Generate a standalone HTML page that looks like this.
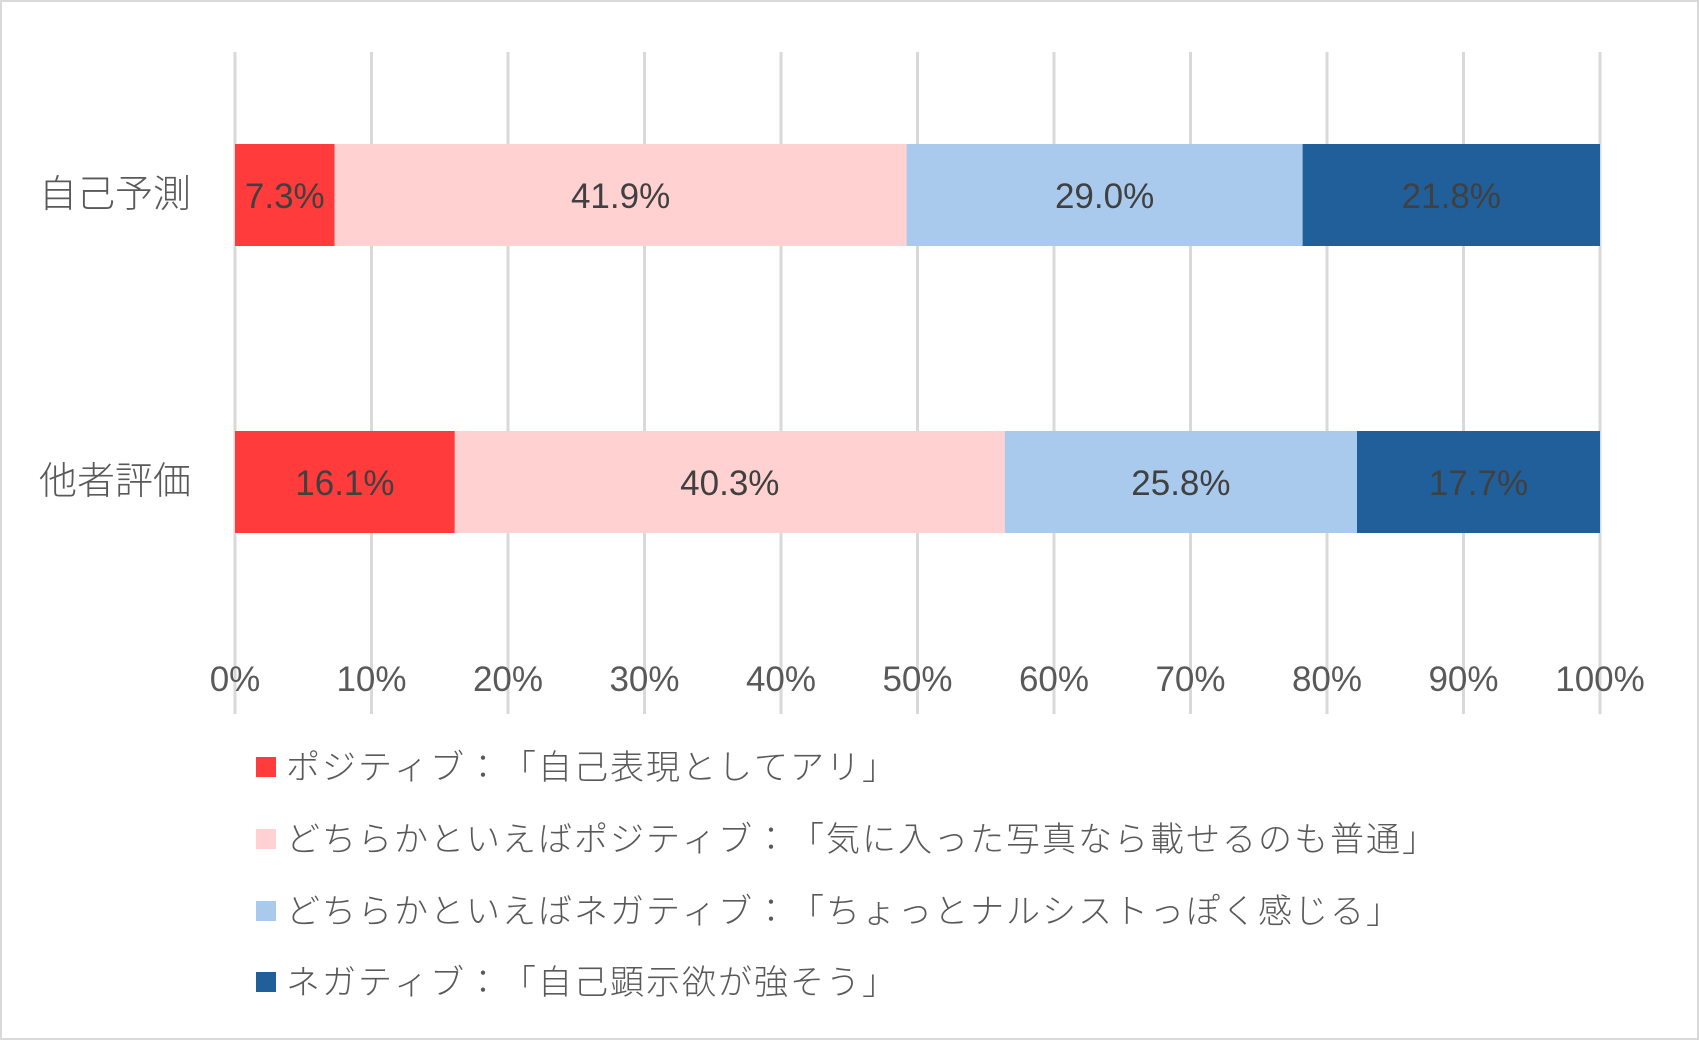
<!DOCTYPE html>
<html><head><meta charset="utf-8"><style>
body{margin:0;background:#fff}
svg text{font-family:"Liberation Sans","Noto Sans CJK JP",sans-serif}
svg text.jp{font-family:"Noto Sans CJK JP",sans-serif;font-weight:300}
</style></head><body>
<svg width="1699" height="1040" xmlns="http://www.w3.org/2000/svg">
<rect x="1" y="1" width="1697" height="1038" fill="#fff" stroke="#d9d9d9" stroke-width="2"/>
<g stroke="#d9d9d9" stroke-width="3">
<line x1="235" y1="52" x2="235" y2="714"/><line x1="371.5" y1="52" x2="371.5" y2="714"/><line x1="508" y1="52" x2="508" y2="714"/><line x1="644.5" y1="52" x2="644.5" y2="714"/><line x1="781" y1="52" x2="781" y2="714"/><line x1="917.5" y1="52" x2="917.5" y2="714"/><line x1="1054" y1="52" x2="1054" y2="714"/><line x1="1190.5" y1="52" x2="1190.5" y2="714"/><line x1="1327" y1="52" x2="1327" y2="714"/><line x1="1463.5" y1="52" x2="1463.5" y2="714"/><line x1="1600" y1="52" x2="1600" y2="714"/>
</g>
<g>
<rect x="235" y="144" width="99.6" height="102" fill="#ff3b3b"/>
<rect x="334.6" y="144" width="572" height="102" fill="#ffd1d1"/>
<rect x="906.6" y="144" width="396" height="102" fill="#a9caec"/>
<rect x="1302.6" y="144" width="297.4" height="102" fill="#215f9a"/>
<rect x="235" y="431" width="219.8" height="102" fill="#ff3b3b"/>
<rect x="454.8" y="431" width="550" height="102" fill="#ffd1d1"/>
<rect x="1004.8" y="431" width="352.2" height="102" fill="#a9caec"/>
<rect x="1357" y="431" width="243" height="102" fill="#215f9a"/>
</g>
<g font-size="35" fill="#404040" text-anchor="middle">
<text x="284.8" y="208">7.3%</text><text x="620.6" y="208">41.9%</text><text x="1104.6" y="208">29.0%</text><text x="1451.3" y="208">21.8%</text>
<text x="344.9" y="495">16.1%</text><text x="729.8" y="495">40.3%</text><text x="1180.9" y="495">25.8%</text><text x="1478.5" y="495">17.7%</text>
</g>
<g font-size="38" fill="#595959" text-anchor="middle">
<text class="jp" x="115" y="207">自己予測</text><text class="jp" x="115" y="494">他者評価</text>
</g>
<g font-size="35" fill="#595959" text-anchor="middle">
<text x="235" y="691">0%</text><text x="371.5" y="691">10%</text><text x="508" y="691">20%</text><text x="644.5" y="691">30%</text><text x="781" y="691">40%</text><text x="917.5" y="691">50%</text><text x="1054" y="691">60%</text><text x="1190.5" y="691">70%</text><text x="1327" y="691">80%</text><text x="1463.5" y="691">90%</text><text x="1600" y="691">100%</text>
</g>
<rect x="256" y="757" width="20" height="20" fill="#ff3b3b"/>
<rect x="256" y="829" width="20" height="20" fill="#ffd1d1"/>
<rect x="256" y="901" width="20" height="20" fill="#a9caec"/>
<rect x="256" y="972" width="20" height="20" fill="#215f9a"/>
<g font-size="34" fill="#595959">
<text class="jp" x="286 322 358 394 430 466 502 538 574 610 646 682 718 754 790 826 862" y="779">ポジティブ：「自己表現としてアリ」</text>
<text class="jp" x="286 322 358 394 430 466 502 538 574 610 646 682 718 754 790 826 862 898 934 970 1006 1042 1078 1114 1150 1186 1222 1258 1294 1330 1366 1402" y="851">どちらかといえばポジティブ：「気に入った写真なら載せるのも普通」</text>
<text class="jp" x="286 322 358 394 430 466 502 538 574 610 646 682 718 754 790 826 862 898 934 970 1006 1042 1078 1114 1150 1186 1222 1258 1294 1330 1366" y="923">どちらかといえばネガティブ：「ちょっとナルシストっぽく感じる」</text>
<text class="jp" x="286 322 358 394 430 466 502 538 574 610 646 682 718 754 790 826 862" y="994">ネガティブ：「自己顕示欲が強そう」</text>
</g>
</svg>
</body></html>
